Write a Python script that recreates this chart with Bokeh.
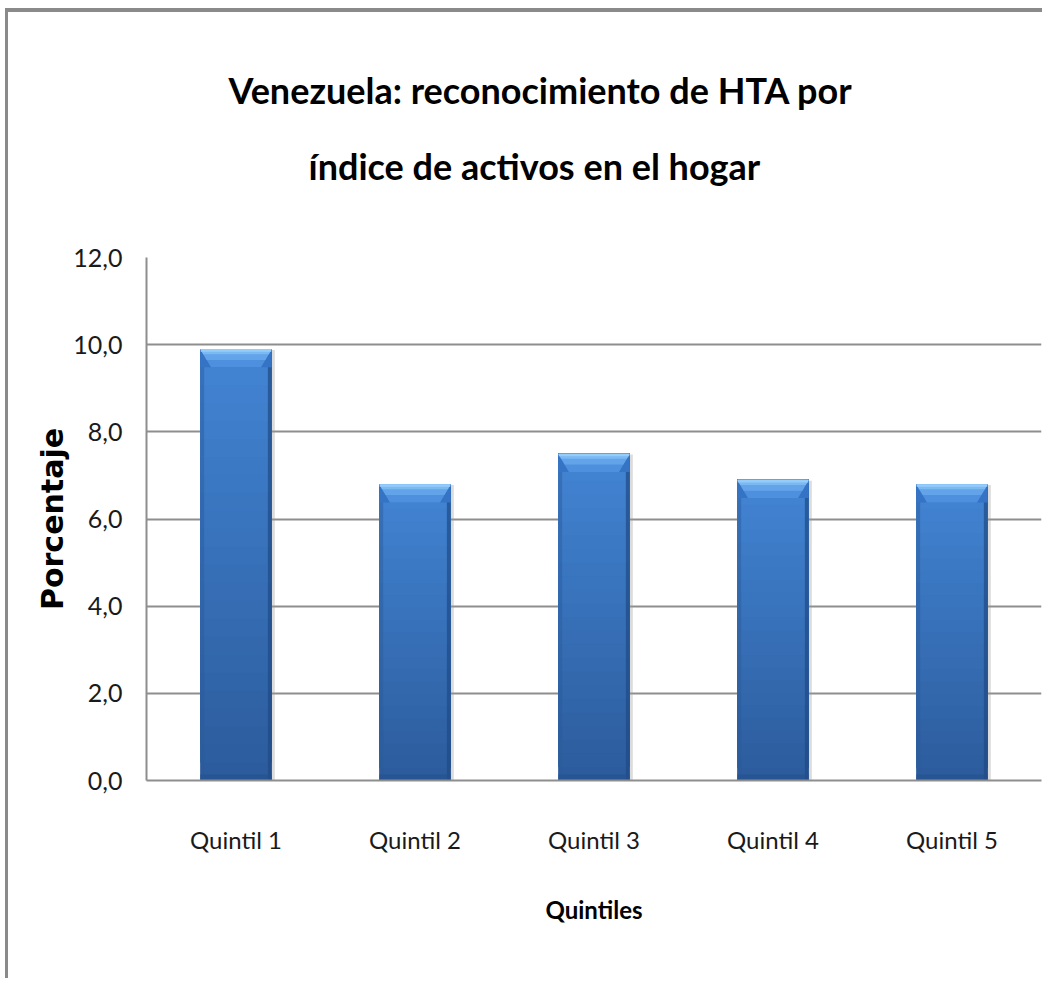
import numpy as np
from bokeh.plotting import figure
from bokeh.models import FixedTicker, Range1d, Title
from bokeh.embed import file_html
from bokeh.resources import INLINE

# ---- data ----
categories = ["Quintil 1", "Quintil 2", "Quintil 3", "Quintil 4", "Quintil 5"]
porcentaje = [9.9, 6.8, 7.5, 6.9, 6.8]
y_ticks = [0, 2, 4, 6, 8, 10, 12]
y_tick_labels = ["0,0", "2,0", "4,0", "6,0", "8,0", "10,0", "12,0"]
title_lines = ["Venezuela: reconocimiento de HTA por", "índice de activos en el hogar"]
x_title = "Quintiles"
y_title = "Porcentaje"

FONT = "Lato"
GRID = "#8e8e8e"

x = np.arange(1, len(categories) + 1)
vals = np.array(porcentaje, dtype=float)

W, H = 1037, 970
p = figure(width=W, height=H, output_backend="svg", toolbar_location=None,
           title=None,
           x_range=Range1d(0.5, len(categories) + 0.5), y_range=Range1d(0, 12),
           min_border_left=138, min_border_right=4, min_border_top=245,
           min_border_bottom=202)
p.outline_line_color = None
p.background_fill_color = "white"
p.border_fill_color = "white"
p.styles = {"margin-left": "5px", "margin-top": "8px",
            "border-top": "4px solid #8a8a8a", "border-left": "3px solid #8a8a8a"}

# title: spacer panel next to the frame, then the two centred lines
p.add_layout(Title(text=" ", standoff=57, text_font_size="1px",
                   text_color="white"), "above")
p.add_layout(Title(text=title_lines[1], align="left", offset=162, standoff=20,
                   text_font=FONT, text_font_style="bold", text_font_size="36px",
                   text_color="black"), "above")
p.add_layout(Title(text=title_lines[0], align="left", offset=82, standoff=40,
                   text_font=FONT, text_font_style="bold", text_font_size="36px",
                   text_color="black"), "above")

# grid
p.xgrid.grid_line_color = None
p.ygrid.ticker = FixedTicker(ticks=y_ticks)
p.ygrid.grid_line_color = GRID
p.ygrid.grid_line_width = 2

# y axis
p.yaxis.ticker = FixedTicker(ticks=y_ticks)
p.yaxis.major_label_overrides = {t: l for t, l in zip(y_ticks, y_tick_labels)}
p.yaxis.major_label_text_font = FONT
p.yaxis.major_label_text_font_size = "25px"
p.yaxis.major_label_text_color = "#1a1a1a"
p.yaxis.major_label_standoff = 24
p.yaxis.major_tick_out = 0
p.yaxis.major_tick_in = 0
p.yaxis.minor_tick_out = 0
p.yaxis.minor_tick_in = 0
p.yaxis.axis_line_color = GRID
p.yaxis.axis_line_width = 2
p.yaxis.axis_label = y_title
p.yaxis.axis_label_text_font = "DejaVu Sans"
p.yaxis.axis_label_text_font_style = "bold"
p.yaxis.axis_label_text_font_size = "30px"
p.yaxis.axis_label_text_color = "black"
p.yaxis.axis_label_standoff = 0

# x axis
p.xaxis.ticker = FixedTicker(ticks=list(x))
p.xaxis.major_label_overrides = {int(i): c for i, c in zip(x, categories)}
p.xaxis.major_label_text_font = FONT
p.xaxis.major_label_text_font_size = "24px"
p.xaxis.major_label_text_color = "#1a1a1a"
p.xaxis.major_label_standoff = 44
p.xaxis.major_tick_out = 0
p.xaxis.major_tick_in = 0
p.xaxis.minor_tick_out = 0
p.xaxis.minor_tick_in = 0
p.xaxis.axis_line_color = GRID
p.xaxis.axis_line_width = 2
p.xaxis.axis_label = x_title
p.xaxis.axis_label_text_font = FONT
p.xaxis.axis_label_text_font_style = "bold"
p.xaxis.axis_label_text_font_size = "24px"
p.xaxis.axis_label_text_color = "black"
p.xaxis.axis_label_standoff = 38

# ---- bars ----
bw = 0.40
# soft shadow
p.vbar(x=x + 0.012, width=bw + 0.01, top=vals - 0.02, bottom=-0.08,
       fill_color="#9a9a9a", fill_alpha=0.35, line_color=None)

# body with vertical gradient (stacked overlapping layers, no seams)
N = 24
c_bot = np.array([0x2c, 0x5c, 0x9c])
c_top = np.array([0x43, 0x85, 0xd5])
xs, bots, tops, cols = [], [], [], []
for k in range(N):
    f0 = k / N
    t = (k + 0.5) / N
    c = (c_bot * (1 - t) + c_top * t).astype(int)
    col = "#%02x%02x%02x" % tuple(c)
    for xi, v in zip(x, vals):
        xs.append(xi)
        bots.append(v * f0)
        tops.append(v)
        cols.append(col)
p.vbar(x=xs, width=bw, bottom=bots, top=tops, fill_color=cols, line_color=None)

# side edges
ew = 0.022
p.vbar(x=x - bw / 2 + ew / 2, width=ew, bottom=0, top=vals, fill_color="#2a5a98",
       fill_alpha=0.45, line_color=None)
p.vbar(x=x + bw / 2 - ew / 2, width=ew, bottom=0, top=vals, fill_color="#1f4a85",
       fill_alpha=0.7, line_color=None)
# bottom edge
p.vbar(x=x, width=bw, bottom=0, top=0.14, fill_color="#25508c", fill_alpha=0.6,
       line_color=None)

# top bevel: darker corner band, then light trapezoid with highlight
dy = 0.42
dx = 0.06
p.vbar(x=x, width=bw, bottom=vals - dy, top=vals, fill_color="#3573c4",
       line_color=None)
def trap(frac_top, frac_bot):
    bx, by = [], []
    for xi, v in zip(x, vals):
        yt = v - dy * frac_top
        yb = v - dy * frac_bot
        it = dx * frac_top
        ib = dx * frac_bot
        bx.append([xi - bw / 2 + it, xi + bw / 2 - it, xi + bw / 2 - ib, xi - bw / 2 + ib])
        by.append([yt, yt, yb, yb])
    return bx, by
bx, by = trap(0.0, 1.0)
p.patches(bx, by, fill_color="#4f90de", line_color=None)
bx, by = trap(0.0, 0.6)
p.patches(bx, by, fill_color="#62a3ea", line_color=None)
bx, by = trap(0.0, 0.28)
p.patches(bx, by, fill_color="#7bb9f3", line_color=None)
p.vbar(x=x, width=bw - 0.006, bottom=vals - 0.06, top=vals, fill_color="#94ccfa",
       line_color=None)

open("out.html", "w").write(file_html(p, INLINE))
